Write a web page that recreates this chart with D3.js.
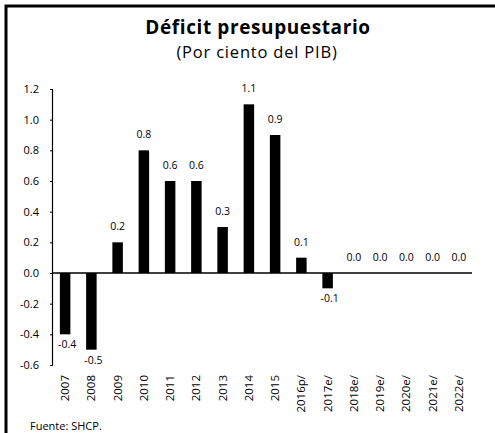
<!DOCTYPE html>
<html>
<head>
<meta charset="utf-8">
<script src="https://cdn.jsdelivr.net/npm/d3@7"></script>
<style>
  html, body { margin: 0; padding: 0; background: #fff; }
  svg { display: block; }
  text { font-family: "Open Sans", "DejaVu Sans", sans-serif; fill: #000; }
</style>
</head>
<body>
<script>
// Budget deficit, percent of GDP (p = preliminary, e = estimate)
const years = ["2007", "2008", "2009", "2010", "2011", "2012", "2013", "2014", "2015",
               "2016p/", "2017e/", "2018e/", "2019e/", "2020e/", "2021e/", "2022e/"];
const deficit = [-0.4, -0.5, 0.2, 0.8, 0.6, 0.6, 0.3, 1.1, 0.9, 0.1, -0.1, 0.0, 0.0, 0.0, 0.0, 0.0];
const yTicks = [-0.6, -0.4, -0.2, 0.0, 0.2, 0.4, 0.6, 0.8, 1.0, 1.2];

// one decimal, plain hyphen for negatives
const fmt = d => d.toFixed(1);

const W = 495, H = 433;
const svg = d3.select("body").append("svg").attr("width", W).attr("height", H);

// Outer frame: thick rules on top and left
svg.append("path")
  .attr("d", `M6,${H} L6,6 L${W},6`)
  .attr("fill", "none").attr("stroke", "#000").attr("stroke-width", 3);

// Titles
svg.append("text").attr("x", 258).attr("y", 34).attr("text-anchor", "middle")
  .style("font-size", "19px").style("font-weight", "bold").style("letter-spacing", "0.6px")
  .text("Déficit presupuestario");
svg.append("text").attr("x", 257).attr("y", 58).attr("text-anchor", "middle")
  .style("font-size", "16.5px").style("letter-spacing", "0.8px")
  .text("(Por ciento del PIB)");

const x = d3.scaleBand().domain(years).range([52, 472]).paddingInner(0.6).paddingOuter(0.3);
const y = d3.scaleLinear().domain([-0.6, 1.2]).range([365, 89]);

// Y axis
const yAxis = d3.axisLeft(y).tickValues(yTicks).tickFormat(fmt).tickSize(2).tickPadding(11);
const gy = svg.append("g").attr("transform", "translate(52,0)").call(yAxis);
gy.select(".domain").attr("stroke", "#000").attr("stroke-width", 1.2);
gy.selectAll("text").style("font-size", "11px").attr("fill", "#000");

// Bars
svg.append("g").selectAll("rect").data(deficit).join("rect")
  .attr("x", (d, i) => x(years[i]))
  .attr("width", x.bandwidth())
  .attr("y", d => y(Math.max(0, d)))
  .attr("height", d => Math.abs(y(d) - y(0)))
  .attr("fill", "#000");

// Zero line
svg.append("line").attr("x1", 52).attr("x2", 472).attr("y1", y(0)).attr("y2", y(0))
  .attr("stroke", "#000").attr("stroke-width", 1.5);

// Value labels
svg.append("g").selectAll("text").data(deficit).join("text")
  .attr("x", (d, i) => x(years[i]) + x.bandwidth() / 2 + (d < 0 ? 2 : 0))
  .attr("y", d => d < 0 ? y(d) + 14 : y(d) - 12)
  .attr("text-anchor", "middle")
  .style("font-size", "10.5px")
  .text(fmt);

// Category labels, rotated
const xAxis = d3.axisBottom(x).tickSize(0).tickPadding(0);
const gx = svg.append("g").attr("transform", "translate(0,375)").call(xAxis);
gx.select(".domain").remove();
gx.selectAll("text")
  .style("font-size", "11.5px").attr("fill", "#000")
  .attr("text-anchor", "end").attr("dy", "0.35em")
  .attr("transform", "rotate(-90)").attr("x", 0).attr("y", 0);

// Source note
svg.append("text").attr("x", 30).attr("y", 430).style("font-size", "11px").text("Fuente: SHCP.");
</script>
</body>
</html>
